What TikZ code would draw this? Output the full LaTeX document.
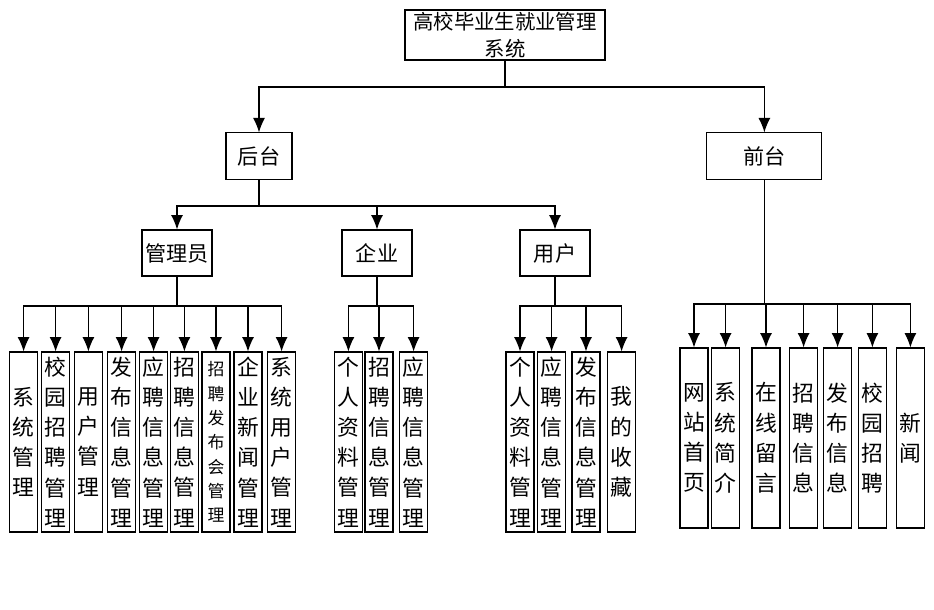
\documentclass[tikz,border=0pt]{standalone}
\usepackage{fontspec}
\setmainfont{Noto Sans CJK SC}
\usetikzlibrary{arrows.meta}

\begin{document}
\begin{tikzpicture}[>={Latex[length=3.6mm,width=3mm]},
 box/.style={draw,thick,inner sep=0pt,font=\fontsize{15}{18}\selectfont},
 leaf/.style={draw,thick,minimum width=0.7cm,minimum height=4.5cm,inner sep=0pt,align=center,font=\fontsize{15.5}{21.5}\selectfont},
 link/.style={->,thick}]
 \useasboundingbox (0,0) rectangle (23.35,-15.25);
 % upper levels
 \node[box,minimum width=5cm,minimum height=1.25cm,align=center,font=\fontsize{14.5}{19}\selectfont] (sys) at (12.625,-0.875) {高校毕业生就业管理\\系统};
 \node[box,minimum width=1.65cm,minimum height=1.175cm] (hou) at (6.475,-3.91) {后台};
 \node[box,minimum width=2.875cm,minimum height=1.175cm] (qian) at (19.11,-3.91) {前台};
 \node[box,minimum width=1.75cm,minimum height=1.15cm] (admin) at (4.425,-6.325) {管理员};
 \node[box,minimum width=1.75cm,minimum height=1.15cm] (corp) at (9.425,-6.325) {企业};
 \node[box,minimum width=1.75cm,minimum height=1.15cm] (user) at (13.875,-6.325) {用户};
 \coordinate (b0) at (12.625,-2.175);
 \coordinate (b1) at (6.475,-5.15);
 \draw[thick] (sys.south) -- (b0);
 \draw[link] (b0) -| (hou.north);
 \draw[link] (b0) -| (qian.north);
 \draw[thick] (hou.south) -- (b1);
 \draw[link] (b1) -| (admin.north);
 \draw[link] (b1) -| (corp.north);
 \draw[link] (b1) -| (user.north);
 % admin modules
 \coordinate (b2) at (4.425,-7.65);
 \draw[thick] (admin.south) -- (b2);
 \foreach \x/\n/\txt in {0.59/a1/{系\\统\\管\\理}, 1.39/a2/{校\\园\\招\\聘\\管\\理},
   2.21/a3/{用\\户\\管\\理}, 3.04/a4/{发\\布\\信\\息\\管\\理}, 3.84/a5/{应\\聘\\信\\息\\管\\理},
   4.61/a6/{招\\聘\\信\\息\\管\\理}, 6.2/a8/{企\\业\\新\\闻\\管\\理}, 7.04/a9/{系\\统\\用\\户\\管\\理}} {
  \node[leaf] (\n) at (\x,-11.05) {\txt};
  \draw[link] (b2) -| (\n.north);
 }
 \node[leaf,font=\fontsize{12}{17.3}\selectfont] (a7) at (5.4,-11.05) {招\\聘\\发\\布\\会\\管\\理};
 \draw[link] (b2) -| (a7.north);
 % enterprise modules
 \coordinate (b3) at (9.425,-7.65);
 \draw[thick] (corp.south) -- (b3);
 \foreach \x/\n/\txt in {8.71/c1/{个\\人\\资\\料\\管\\理}, 9.475/c2/{招\\聘\\信\\息\\管\\理},
   10.34/c3/{应\\聘\\信\\息\\管\\理}} {
  \node[leaf] (\n) at (\x,-11.05) {\txt};
  \draw[link] (b3) -| (\n.north);
 }
 % user modules
 \coordinate (b4) at (13.875,-7.65);
 \draw[thick] (user.south) -- (b4);
 \foreach \x/\n/\txt in {13.0/u1/{个\\人\\资\\料\\管\\理}, 13.79/u2/{应\\聘\\信\\息\\管\\理},
   14.65/u3/{发\\布\\信\\息\\管\\理}, 15.54/u4/{我\\的\\收\\藏}} {
  \node[leaf] (\n) at (\x,-11.05) {\txt};
  \draw[link] (b4) -| (\n.north);
 }
 % front pages
 \coordinate (b5) at (19.11,-7.6);
 \draw[thick] (qian.south) -- (b5);
 \foreach \x/\n/\txt in {17.35/f1/{网\\站\\首\\页}, 18.14/f2/{系\\统\\简\\介}, 19.15/f3/{在\\线\\留\\言},
   20.09/f4/{招\\聘\\信\\息}, 20.94/f5/{发\\布\\信\\息}, 21.81/f6/{校\\园\\招\\聘}, 22.76/f7/{新\\闻}} {
  \node[leaf] (\n) at (\x,-10.95) {\txt};
  \draw[link] (b5) -| (\n.north);
 }
\end{tikzpicture}
\end{document}
